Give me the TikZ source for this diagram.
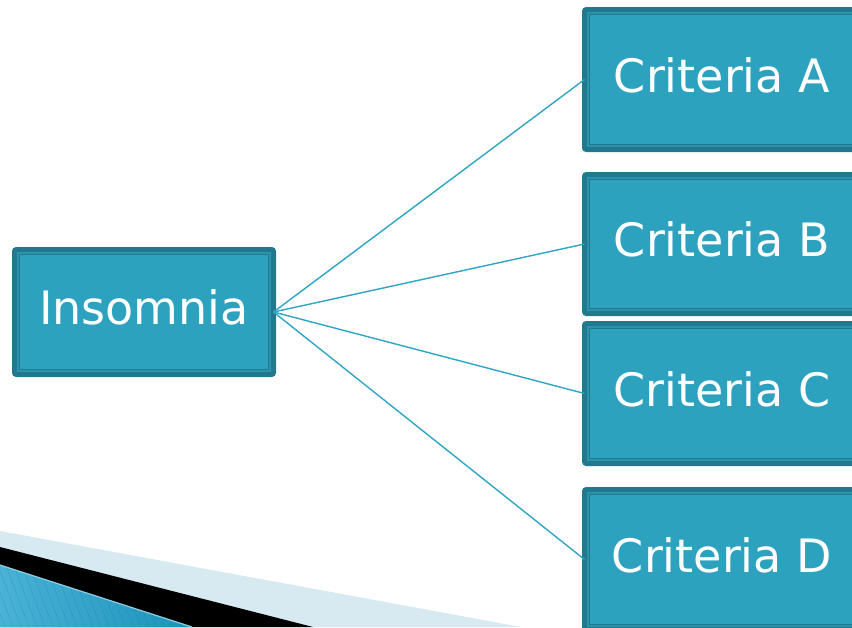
\documentclass[tikz,border=0pt]{standalone}
\usepackage{fontspec}
\setmainfont{DejaVu Sans}
\usetikzlibrary{positioning}

\definecolor{boxdark}{HTML}{22788D}
\definecolor{boxfill}{HTML}{2DA2BF}
\definecolor{boxmid}{HTML}{2A93AE}
\definecolor{linkblue}{HTML}{2EA5C1}
\definecolor{bandlight}{HTML}{D7EAF1}
\definecolor{waveleft}{HTML}{4AB2D6}
\definecolor{waveright}{HTML}{1B92BC}
\definecolor{waveedge}{HTML}{8FCDE2}

\begin{document}
\begin{tikzpicture}[x=1pt,y=-1pt,
    critbox/.style={rectangle,fill=boxfill,draw=boxdark,line width=5pt,
      rounded corners=2pt,outer sep=0pt,text=white,
      text height=25pt,text depth=0pt,font=\fontsize{46}{50}\selectfont},
    link/.style={draw=linkblue,line width=1.4pt}]
  \clip (0,0) rectangle (852,627);

  % corner band
  \fill[bandlight] (0,531) -- (521,627) -- (0,627) -- cycle;
  \fill[black]     (0,547) -- (313,627) -- (0,627) -- cycle;
  \begin{scope}
    \clip (0,565) -- (192,627) -- (0,627) -- cycle;
    \shade[left color=waveleft,right color=waveright] (0,560) rectangle (195,627);
    \foreach \x in {-20,-12,...,200}
      \draw[waveright!80!black,opacity=0.25,line width=0.6pt] (\x,560) -- (\x+25,627);
  \end{scope}
  \draw[waveedge,line width=1.2pt] (0,565) -- (192,627);

  \node[critbox,minimum width=259pt,minimum height=125pt] (Insomnia) at (144,312) {Insomnia};
  \node[critbox,minimum width=275pt,minimum height=140pt] (CritA) at (722,79.5)  {Criteria A};
  \node[critbox,minimum width=275pt,minimum height=139pt] (CritB) at (722,244)   {Criteria B};
  \node[critbox,minimum width=275pt,minimum height=140pt] (CritC) at (722,393.5) {Criteria C};
  \node[critbox,minimum width=275pt,minimum height=140pt] (CritD) at (722,559.5) {Criteria D};

  % inner frame of each box
  \foreach \n in {Insomnia,CritA,CritB,CritC,CritD} {
    \draw[boxmid,line width=1.6pt] ([shift={(3.6,3.6)}]\n.north west) rectangle ([shift={(-3.6,-3.6)}]\n.south east);
    \draw[boxdark,line width=0.7pt] ([shift={(5,5)}]\n.north west) rectangle ([shift={(-5,-5)}]\n.south east);
  }

  \path[link]
    (Insomnia.east) edge (CritA.west)
    (Insomnia.east) edge (CritB.west)
    (Insomnia.east) edge (CritC.west)
    (Insomnia.east) edge (CritD.west);
\end{tikzpicture}
\end{document}
